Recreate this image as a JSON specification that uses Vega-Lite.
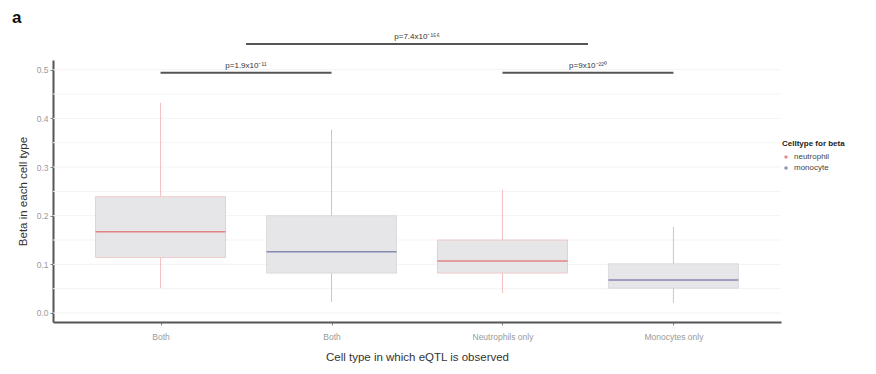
{
  "$schema": "https://vega.github.io/schema/vega-lite/v6.json",
  "width": 728,
  "height": 262,
  "autosize": {"type": "none"},
  "padding": {"left": 53, "top": 60, "right": 95, "bottom": 52},
  "background": "white",
  "title": {"text": "a", "anchor": "start", "frame": "group", "dx": -41, "offset": 6, "fontSize": 17, "fontWeight": "bold", "font": "Liberation Sans", "color": "#111"},
  "config": {
    "view": {"stroke": null},
    "font": "Liberation Sans",
    "axis": {"domainColor": "#555", "domainWidth": 2, "tickColor": "#888", "tickSize": 3, "labelColor": "#9a9a9a", "labelFontSize": 8.5, "titleColor": "#333", "titleFontWeight": "normal", "titleFontSize": 11.5, "grid": false},
    "legend": {"titleFontSize": 8, "titleFontWeight": "bold", "titleColor": "#222", "labelFontSize": 8, "labelColor": "#444", "symbolType": "circle", "symbolSize": 12, "rowPadding": 3}
  },
  "datasets": {
    "boxes": [
      {"pos": 1, "cell": "neutrophil", "lo": 0.051, "q1": 0.114, "med": 0.167, "q3": 0.239, "hi": 0.432},
      {"pos": 2, "cell": "monocyte", "lo": 0.023, "q1": 0.082, "med": 0.126, "q3": 0.200, "hi": 0.377},
      {"pos": 3, "cell": "neutrophil", "lo": 0.041, "q1": 0.082, "med": 0.107, "q3": 0.150, "hi": 0.253},
      {"pos": 4, "cell": "monocyte", "lo": 0.021, "q1": 0.051, "med": 0.068, "q3": 0.101, "hi": 0.177}
    ],
    "grid": [
      {"g": 0.0}, {"g": 0.05}, {"g": 0.1}, {"g": 0.15}, {"g": 0.2}, {"g": 0.25},
      {"g": 0.3}, {"g": 0.35}, {"g": 0.4}, {"g": 0.45}, {"g": 0.5}
    ],
    "brackets": [
      {"x1": 1, "x2": 2, "xm": 1.5, "y": 0.494, "label": "p=1.9x10⁻¹¹"},
      {"x1": 3, "x2": 4, "xm": 3.5, "y": 0.494, "label": "p=9x10⁻²²⁰"},
      {"x1": 1.5, "x2": 3.5, "xm": 2.5, "y": 0.553, "label": "p=7.4x10⁻¹⁵⁶"}
    ]
  },
  "layer": [
    {
      "data": {"name": "grid"},
      "mark": {"type": "rule", "color": "#f3f3f3", "strokeWidth": 1},
      "encoding": {
        "y": {"field": "g", "type": "quantitative", "scale": {"domain": [-0.0185, 0.52], "nice": false, "zero": false},
              "axis": {"values": [0, 0.1, 0.2, 0.3, 0.4, 0.5], "format": ".1f", "title": "Beta  in each cell type", "titlePadding": 8, "labelPadding": 2}}
      }
    },
    {
      "data": {"name": "boxes"},
      "mark": {"type": "rule", "strokeWidth": 0.8},
      "encoding": {
        "x": {"field": "pos", "type": "quantitative", "scale": {"domain": [0.4, 4.6], "nice": false, "zero": false},
              "axis": {"values": [1, 2, 3, 4], "labelExpr": "datum.value == 1 || datum.value == 2 ? 'Both' : datum.value == 3 ? 'Neutrophils only' : 'Monocytes only'", "title": "Cell type in which eQTL is observed", "titlePadding": 11, "labelPadding": 7}},
        "y": {"field": "lo", "type": "quantitative"},
        "y2": {"field": "hi"},
        "stroke": {"condition": {"test": "datum.cell == 'neutrophil'", "value": "#eeb0b0"}, "value": "#b8b8c0"}
      }
    },
    {
      "data": {"name": "boxes"},
      "mark": {"type": "bar", "size": 130, "fill": "#e6e6e8", "strokeWidth": 0.8},
      "encoding": {
        "x": {"field": "pos", "type": "quantitative"},
        "y": {"field": "q1", "type": "quantitative"},
        "y2": {"field": "q3"},
        "stroke": {"condition": {"test": "datum.cell == 'neutrophil'", "value": "#f0c0c0"}, "value": "#d6d6da"}
      }
    },
    {
      "data": {"name": "boxes"},
      "mark": {"type": "tick", "orient": "horizontal", "size": 130, "thickness": 1.5},
      "encoding": {
        "x": {"field": "pos", "type": "quantitative"},
        "y": {"field": "med", "type": "quantitative"},
        "color": {"field": "cell", "type": "nominal", "scale": {"domain": ["neutrophil", "monocyte"], "range": ["#e05a5e", "#5e6098"]},
                  "legend": {"title": "Celltype for beta", "orient": "none", "legendX": 729, "legendY": 80}}
      }
    },
    {
      "data": {"name": "brackets"},
      "mark": {"type": "rule", "color": "#555", "strokeWidth": 2},
      "encoding": {
        "x": {"field": "x1", "type": "quantitative"},
        "x2": {"field": "x2"},
        "y": {"field": "y", "type": "quantitative"}
      }
    },
    {
      "data": {"name": "brackets"},
      "mark": {"type": "text", "baseline": "bottom", "dy": -3, "fontSize": 8, "color": "#333"},
      "encoding": {
        "x": {"field": "xm", "type": "quantitative"},
        "y": {"field": "y", "type": "quantitative"},
        "text": {"field": "label"}
      }
    }
  ]
}
